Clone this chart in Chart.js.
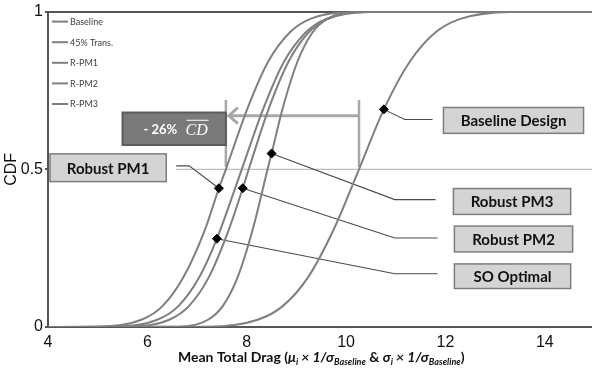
<!DOCTYPE html>
<html>
<head>
<meta charset="utf-8">
<script src="https://cdn.jsdelivr.net/npm/chart.js@4.4.1/dist/chart.umd.min.js"></script>
<style>
  html, body { margin: 0; padding: 0; background: #fff; overflow: hidden; }
  #wrap { width: 600px; height: 375px; }
</style>
</head>
<body>
<div id="wrap"><canvas id="cdfChart"></canvas></div>
<script>
// CDF curves of mean total drag, one x/y pair per design
const seriesNames = ['Baseline', '45% Trans.', 'R-PM1', 'R-PM2', 'R-PM3'];

const baselineX = [4, 7.2, 8.22, 8.73, 9.24, 9.75, 10.26, 10.76, 11.28, 11.79, 12.3, 13.32, 15];
const baselineY = [0, 0.001, 0.023, 0.067, 0.159, 0.309, 0.5, 0.69, 0.841, 0.933, 0.977, 0.999, 1];

const trans45X = [4, 5.35, 6.2, 6.63, 7.05, 7.4, 7.9, 8.33, 8.75, 9.18, 9.6, 10.45, 15];
const trans45Y = [0, 0.001, 0.023, 0.067, 0.159, 0.28, 0.5, 0.691, 0.841, 0.933, 0.977, 0.999, 1];

const rpm1X = [4, 5.03, 5.88, 6.31, 6.73, 7.16, 7.44, 7.58, 8.01, 8.43, 8.86, 9.28, 10.13, 15];
const rpm1Y = [0, 0.001, 0.023, 0.067, 0.159, 0.309, 0.44, 0.5, 0.691, 0.841, 0.933, 0.977, 0.999, 1];

const rpm2X = [4, 5.64, 6.44, 6.84, 7.24, 7.64, 7.92, 8.04, 8.44, 8.84, 9.24, 9.64, 10.44, 15];
const rpm2Y = [0, 0.001, 0.023, 0.067, 0.159, 0.309, 0.44, 0.5, 0.691, 0.841, 0.933, 0.977, 0.999, 1];

const rpm3X = [4, 6.62, 7.22, 7.52, 7.82, 8.12, 8.42, 8.5, 8.72, 9.02, 9.32, 9.62, 10.22, 15];
const rpm3Y = [0, 0.001, 0.023, 0.067, 0.159, 0.309, 0.5, 0.55, 0.691, 0.841, 0.933, 0.977, 0.999, 1];

// highlighted design points (each one sits on its curve above)
const markerLabels = ['Baseline Design', 'Robust PM3', 'Robust PM2', 'SO Optimal', 'Robust PM1'];
const markerX = [10.76, 8.5, 7.92, 7.4, 7.44];
const markerY = [0.69, 0.55, 0.44, 0.28, 0.44];

const xTicks = [4, 6, 8, 10, 12, 14];
const yTicks = [0, 0.5, 1];
const reductionText = '- 26%';

// callout boxes in axis units: [x1, x2, yTop, yBottom], elbow point and end of leader
const callouts = [
  { box: [11.96, 14.78, 0.696, 0.614], elbow: [11.18, 0.658], end: 11.74 },
  { box: [12.16, 14.52, 0.439, 0.357], elbow: [10.98, 0.404], end: 11.8 },
  { box: [12.18, 14.56, 0.320, 0.238], elbow: [10.98, 0.282], end: 11.84 },
  { box: [12.18, 14.52, 0.200, 0.122], elbow: [10.98, 0.169], end: 11.84 },
  { box: [4.04, 6.38, 0.549, 0.461], elbow: [6.84, 0.511], end: 6.58 }
];

const curveColor = '#7f7f7f';

function toPoints(xs, ys) {
  return xs.map((x, i) => ({ x: x, y: ys[i] }));
}

const curves = [
  [baselineX, baselineY],
  [trans45X, trans45Y],
  [rpm1X, rpm1Y],
  [rpm2X, rpm2Y],
  [rpm3X, rpm3Y]
];

const datasets = curves.map((c, i) => ({
  type: 'line',
  label: seriesNames[i],
  data: toPoints(c[0], c[1]),
  borderColor: curveColor,
  borderWidth: 2,
  pointRadius: 0,
  cubicInterpolationMode: 'monotone',
  fill: false,
  order: 2
}));

datasets.push({
  type: 'scatter',
  label: 'markers',
  data: toPoints(markerX, markerY),
  pointStyle: 'rectRot',
  pointRadius: 4.5,
  backgroundColor: '#000',
  borderColor: '#000',
  borderWidth: 1,
  order: 1
});

const medianOf = (xs, ys) => xs[ys.indexOf(0.5)];

function drawBox(ctx, x1, y1, x2, y2, fill, stroke, lw) {
  ctx.fillStyle = fill;
  ctx.fillRect(x1, y1, x2 - x1, y2 - y1);
  ctx.strokeStyle = stroke;
  ctx.lineWidth = lw;
  ctx.strokeRect(x1, y1, x2 - x1, y2 - y1);
}

const annotations = {
  id: 'cdfAnnotations',
  beforeDatasetsDraw(chart) {
    const { ctx, chartArea } = chart;
    const xs = chart.scales.x, ys = chart.scales.y;
    ctx.save();

    // 50% reference line
    ctx.strokeStyle = '#bfbfbf';
    ctx.lineWidth = 1.3;
    ctx.beginPath();
    ctx.moveTo(xs.getPixelForValue(6.58), ys.getPixelForValue(0.5));
    ctx.lineTo(chartArea.right, ys.getPixelForValue(0.5));
    ctx.stroke();

    // brackets at the medians of R-PM1 and Baseline
    const left = xs.getPixelForValue(medianOf(rpm1X, rpm1Y));
    const right = xs.getPixelForValue(medianOf(baselineX, baselineY));
    const top = ys.getPixelForValue(0.72), bottom = ys.getPixelForValue(0.507);
    ctx.strokeStyle = '#a8a8a8';
    ctx.lineWidth = 2.5;
    ctx.beginPath();
    ctx.moveTo(left, top); ctx.lineTo(left, bottom);
    ctx.moveTo(right, top); ctx.lineTo(right, bottom);
    ctx.stroke();

    // arrow from baseline median to R-PM1 median
    const ay = ys.getPixelForValue(0.67);
    ctx.lineWidth = 3;
    ctx.beginPath();
    ctx.moveTo(right, ay); ctx.lineTo(left + 2, ay);
    ctx.moveTo(left + 12, ay - 8); ctx.lineTo(left + 3, ay); ctx.lineTo(left + 12, ay + 8);
    ctx.stroke();

    // leader lines from markers to callout boxes
    ctx.strokeStyle = '#4a4a4a';
    ctx.lineWidth = 1.1;
    callouts.forEach((c, i) => {
      const ey = ys.getPixelForValue(c.elbow[1]);
      ctx.beginPath();
      ctx.moveTo(xs.getPixelForValue(markerX[i]), ys.getPixelForValue(markerY[i]));
      ctx.lineTo(xs.getPixelForValue(c.elbow[0]), ey);
      ctx.lineTo(xs.getPixelForValue(c.end), ey);
      ctx.stroke();
    });
    ctx.restore();
  },
  afterDatasetsDraw(chart) {
    const { ctx, chartArea } = chart;
    const xs = chart.scales.x, ys = chart.scales.y;
    ctx.save();

    // dark reduction box
    const bx1 = xs.getPixelForValue(5.5), bx2 = xs.getPixelForValue(medianOf(rpm1X, rpm1Y));
    const by1 = ys.getPixelForValue(0.68), by2 = ys.getPixelForValue(0.577);
    drawBox(ctx, bx1, by1, bx2, by2, '#7a7a7a', '#5c5c5c', 2);
    const ty = (by1 + by2) / 2;
    ctx.fillStyle = '#fff';
    ctx.textBaseline = 'middle';
    ctx.textAlign = 'left';
    ctx.font = 'bold 13px Lato';
    ctx.fillText(reductionText, bx1 + 21, ty + 1);
    ctx.font = 'italic 16px "Liberation Serif"';
    const cdX = bx1 + 63;
    ctx.fillText('CD', cdX, ty + 2);
    const cdW = ctx.measureText('CD').width;
    ctx.strokeStyle = '#fff';
    ctx.lineWidth = 1;
    ctx.beginPath();
    ctx.moveTo(cdX + 1, ty - 8.5); ctx.lineTo(cdX + cdW + 1, ty - 8.5);
    ctx.stroke();

    // callout boxes
    ctx.textAlign = 'center';
    ctx.font = 'bold 15px Lato';
    callouts.forEach((c, i) => {
      const x1 = xs.getPixelForValue(c.box[0]), x2 = xs.getPixelForValue(c.box[1]);
      const y1 = ys.getPixelForValue(c.box[2]), y2 = ys.getPixelForValue(c.box[3]);
      drawBox(ctx, x1, y1, x2, y2, '#d4d4d4', '#7d7d7d', 1.5);
      ctx.fillStyle = '#111';
      ctx.fillText(markerLabels[i], (x1 + x2) / 2, (y1 + y2) / 2 + 1);
    });

    // legend in the upper left corner
    ctx.textAlign = 'left';
    ctx.font = '9px Lato';
    seriesNames.forEach((name, i) => {
      const ly = chartArea.top + 10 + i * 20.6;
      ctx.strokeStyle = curveColor;
      ctx.lineWidth = 2;
      ctx.beginPath();
      ctx.moveTo(chartArea.left + 4, ly); ctx.lineTo(chartArea.left + 20, ly);
      ctx.stroke();
      ctx.fillStyle = '#404040';
      ctx.fillText(name, chartArea.left + 22, ly + 0.5);
    });

    // x-axis title with subscripts
    const big = 14, small = 9;
    const parts = [
      { t: 'Mean Total Drag (', f: 'bold ' + big + 'px Lato', dy: 0 },
      { t: 'μ', f: 'bold italic ' + big + 'px Lato', dy: 0 },
      { t: 'i', f: 'bold italic ' + small + 'px Lato', dy: 3 },
      { t: ' × 1/σ', f: 'bold italic ' + big + 'px Lato', dy: 0 },
      { t: 'Baseline', f: 'bold italic ' + small + 'px Lato', dy: 3 },
      { t: ' & ', f: 'bold ' + big + 'px Lato', dy: 0 },
      { t: 'σ', f: 'bold italic ' + big + 'px Lato', dy: 0 },
      { t: 'i', f: 'bold italic ' + small + 'px Lato', dy: 3 },
      { t: ' × 1/σ', f: 'bold italic ' + big + 'px Lato', dy: 0 },
      { t: 'Baseline', f: 'bold italic ' + small + 'px Lato', dy: 3 },
      { t: ')', f: 'bold ' + big + 'px Lato', dy: 0 }
    ];
    let total = 0;
    parts.forEach(p => { ctx.font = p.f; p.w = ctx.measureText(p.t).width; total += p.w; });
    let tx = (chartArea.left + chartArea.right) / 2 - total / 2;
    const baseY = 362;
    ctx.fillStyle = '#111';
    ctx.textBaseline = 'alphabetic';
    parts.forEach(p => {
      ctx.font = p.f;
      ctx.fillText(p.t, tx, baseY + p.dy);
      tx += p.w;
    });
    ctx.restore();
  }
};

new Chart(document.getElementById('cdfChart'), {
  data: { datasets: datasets },
  plugins: [annotations],
  options: {
    responsive: true,
    maintainAspectRatio: false,
    animation: false,
    layout: { padding: { top: 8, right: 2, left: 0, bottom: 0 } },
    plugins: {
      legend: { display: false },
      tooltip: { enabled: false }
    },
    scales: {
      x: {
        type: 'linear',
        min: 4,
        max: 15,
        afterBuildTicks: s => { s.ticks = xTicks.map(v => ({ value: v })); },
        afterFit: s => { s.height = 48; },
        grid: { display: false },
        border: { display: true, color: '#555', width: 2 },
        ticks: {
          padding: -2,
          color: '#111',
          font: { family: 'Liberation Sans', size: 16 },
          callback: v => String(v)
        }
      },
      y: {
        type: 'linear',
        min: 0,
        max: 1,
        afterBuildTicks: s => { s.ticks = yTicks.map(v => ({ value: v })); },
        afterFit: s => { s.width = 48; },
        grid: {
          drawTicks: true,
          tickLength: 3,
          lineWidth: 2,
          tickColor: '#555',
          color: ctx => (ctx.tick && ctx.tick.value === 1 ? '#555' : 'rgba(0,0,0,0)')
        },
        border: { display: true, color: '#555', width: 2 },
        title: {
          display: true,
          text: 'CDF',
          color: '#111',
          font: { family: 'Liberation Sans', size: 16 },
          padding: { top: 2, bottom: 0 }
        },
        ticks: {
          padding: 2,
          color: '#111',
          font: { family: 'Liberation Sans', size: 16 },
          callback: v => String(v)
        }
      }
    }
  }
});
</script>
</body>
</html>
